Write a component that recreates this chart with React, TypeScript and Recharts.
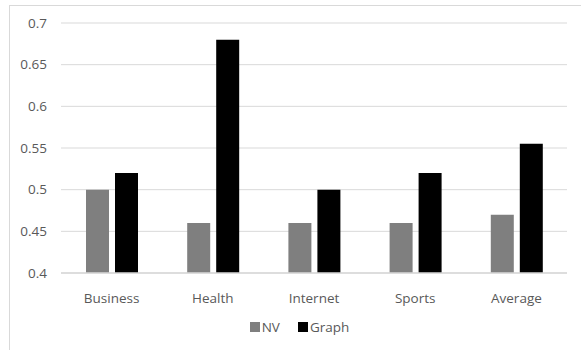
import { BarChart, Bar, XAxis, YAxis, CartesianGrid, Legend } from 'recharts'

const categories = ['Business', 'Health', 'Internet', 'Sports', 'Average']
const nvValues = [0.5, 0.46, 0.46, 0.46, 0.47]
const graphValues = [0.52, 0.68, 0.5, 0.52, 0.555]
const yTicks = [0.4, 0.45, 0.5, 0.55, 0.6, 0.65, 0.7]
const seriesNames = ['NV', 'Graph']
const seriesColors = ['#7f7f7f', '#000000']

const data = categories.map((name, i) => ({ name, NV: nvValues[i], Graph: graphValues[i] }))

const font = '"Open Sans", "Noto Sans", sans-serif'
const textColor = '#595959'

function LegendContent() {
  return (
    <div
      style={{
        display: 'flex',
        justifyContent: 'center',
        gap: 18,
        paddingTop: 5,
        position: 'relative',
        left: 16,
        fontSize: 13.5,
        fontFamily: font,
        color: textColor,
      }}
    >
      {seriesNames.map((n, i) => (
        <span key={n} style={{ display: 'flex', alignItems: 'center' }}>
          <span style={{ display: 'inline-block', width: 10, height: 10, background: seriesColors[i], marginRight: 2 }} />
          {n}
        </span>
      ))}
    </div>
  )
}

export default function App() {
  return (
    <div style={{ position: 'absolute', left: 0, top: 0, width: 581, height: 350, overflow: 'hidden', background: '#fff' }}>
      <div
        style={{
          position: 'absolute',
          left: 9,
          top: 5,
          width: 620,
          height: 400,
          border: '1px solid #d9d9d9',
        }}
      />
      <div style={{ position: 'absolute', left: 0, top: 0 }}>
        <BarChart
          width={581}
          height={350}
          data={data}
          margin={{ top: 23, right: 14, left: 0, bottom: 6 }}
          barSize={23}
          barGap={6}
        >
          <CartesianGrid vertical={false} stroke="#d9d9d9" />
          <XAxis
            dataKey="name"
            axisLine={{ stroke: '#d9d9d9', strokeWidth: 1.5 }}
            tickLine={false}
            tickMargin={14}
            height={40}
            tick={{ fontSize: 13.5, fill: textColor, fontFamily: font }}
          />
          <YAxis
            domain={[0.4, 0.7]}
            ticks={yTicks}
            axisLine={false}
            tickLine={false}
            tickSize={0}
            tickMargin={14}
            width={61}
            tick={{ fontSize: 13.5, fill: textColor, fontFamily: font }}
          />
          <Legend verticalAlign="bottom" height={31} content={<LegendContent />} />
          <Bar dataKey="NV" fill={seriesColors[0]} isAnimationActive={false} />
          <Bar dataKey="Graph" fill={seriesColors[1]} isAnimationActive={false} />
        </BarChart>
      </div>
    </div>
  )
}
